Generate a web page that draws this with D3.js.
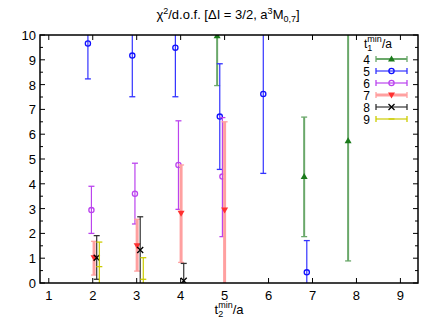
<!DOCTYPE html>
<html>
<head>
<meta charset="utf-8">
<script src="https://cdn.jsdelivr.net/npm/d3@7"></script>
<style>
  body { margin: 0; background: #fff; }
  text { font-family: "Liberation Sans", Arial, sans-serif; }
</style>
</head>
<body>
<svg width="436" height="327"></svg>
<script>
// t1min/a series labels
var series = ["4", "5", "6", "7", "8", "9"];
// x positions (t2min/a, shifted per series), central value, upper, lower
var x4 = [4.83, 6.81, 7.81];
var y4 = [9.97, 4.29, 5.74];
var hi4 = [11.5, 6.69, 11.5];
var lo4 = [7.96, 1.87, 0.89];

var x5 = [1.89, 2.90, 3.88, 4.89, 5.88, 6.87];
var y5 = [9.66, 9.17, 9.49, 6.71, 7.62, 0.43];
var hi5 = [11.5, 11.5, 11.5, 8.84, 11.5, 1.71];
var lo5 = [8.23, 7.51, 7.51, 4.58, 4.42, -0.5];

var x6 = [1.97, 2.96, 3.95, 4.95];
var y6 = [2.94, 3.60, 4.76, 4.29];
var hi6 = [3.90, 4.83, 6.54, 6.67];
var lo6 = [2.00, 2.38, 2.97, 1.87];

var x7 = [2.03, 3.01, 4.01, 5.00];
var y7 = [1.02, 1.50, 2.81, 2.94];
var hi7 = [1.68, 2.57, 4.76, 6.50];
var lo7 = [0.32, 0.48, 0.83, -0.5];

var x8 = [2.09, 3.08, 4.07];
var y8 = [1.02, 1.33, 0.09];
var hi8 = [1.91, 2.67, 0.79];
var lo8 = [0.15, -0.5, -0.5];

var x9 = [2.15, 3.15];
var y9 = [0.66, 0.15];
var hi9 = [1.65, 1.02];
var lo9 = [-0.5, -0.5];

var xTicks = [1, 2, 3, 4, 5, 6, 7, 8, 9];
var yTicks = [0, 1, 2, 3, 4, 5, 6, 7, 8, 9, 10];

var data = [
  { x: x4, y: y4, hi: hi4, lo: lo4 },
  { x: x5, y: y5, hi: hi5, lo: lo5 },
  { x: x6, y: y6, hi: hi6, lo: lo6 },
  { x: x7, y: y7, hi: hi7, lo: lo7 },
  { x: x8, y: y8, hi: hi8, lo: lo8 },
  { x: x9, y: y9, hi: hi9, lo: lo9 }
];

// styles per series
var barColor = ["#6aa86a", "#3333ff", "#bb44ee", "#ffa0a0", "#333333", "#cccc00"];
var markColor = ["#1a7a1a", "#1010ff", "#bb44ee", "#ff3030", "#000000", "#cccc00"];
var barWidth = [2, 1.2, 1.2, 3, 1.2, 1.2];
var markType = ["tri", "circ", "circ", "tridown", "cross", "plus"];

var svg = d3.select("svg");
var L = 40, R = 418, T = 35, B = 283;

var x = d3.scaleLinear().domain([0.8, 9.4]).range([L, R]);
var y = d3.scaleLinear().domain([0, 10]).range([B, T]);

svg.append("defs").append("clipPath").attr("id", "clip")
  .append("rect").attr("x", L).attr("y", T).attr("width", R - L).attr("height", B - T);

// ticks (gnuplot style: inward, mirrored)
var ax = svg.append("g").attr("stroke", "#000").attr("stroke-width", 1);
xTicks.forEach(function (t) {
  ax.append("line").attr("x1", x(t)).attr("x2", x(t)).attr("y1", B).attr("y2", B - 5);
  ax.append("line").attr("x1", x(t)).attr("x2", x(t)).attr("y1", T).attr("y2", T + 5);
});
d3.range(0, 10.01, 0.5).forEach(function (t) {
  var len = (t % 1 === 0) ? 5 : 3;
  ax.append("line").attr("x1", L).attr("x2", L + len).attr("y1", y(t)).attr("y2", y(t));
  ax.append("line").attr("x1", R).attr("x2", R - len).attr("y1", y(t)).attr("y2", y(t));
});

svg.append("g").selectAll("text").data(xTicks).join("text")
  .attr("x", function (d) { return x(d); }).attr("y", B + 17)
  .attr("text-anchor", "middle").attr("font-size", 13).text(function (d) { return d; });
svg.append("g").selectAll("text").data(yTicks).join("text")
  .attr("x", L - 4).attr("y", function (d) { return y(d) + 5; })
  .attr("text-anchor", "end").attr("font-size", 13).text(function (d) { return d; });

function drawMarker(g, type, cx, cy, col) {
  if (type === "tri") {
    g.append("path").attr("d", "M" + cx + "," + (cy - 3.5) + "L" + (cx + 3.5) + "," + (cy + 2.5) + "L" + (cx - 3.5) + "," + (cy + 2.5) + "Z")
      .attr("fill", col);
  } else if (type === "tridown") {
    g.append("path").attr("d", "M" + cx + "," + (cy + 3.5) + "L" + (cx + 3.5) + "," + (cy - 2.5) + "L" + (cx - 3.5) + "," + (cy - 2.5) + "Z")
      .attr("fill", col);
  } else if (type === "circ") {
    g.append("circle").attr("cx", cx).attr("cy", cy).attr("r", 2.6)
      .attr("fill", "none").attr("stroke", col).attr("stroke-width", 1.3);
  } else if (type === "cross") {
    g.append("path").attr("d", "M" + (cx - 3) + "," + (cy - 3) + "L" + (cx + 3) + "," + (cy + 3) + "M" + (cx - 3) + "," + (cy + 3) + "L" + (cx + 3) + "," + (cy - 3))
      .attr("stroke", col).attr("stroke-width", 1.3);
  } else {
    g.append("path").attr("d", "M" + (cx - 3) + "," + cy + "L" + (cx + 3) + "," + cy)
      .attr("stroke", col).attr("stroke-width", 1.3);
  }
}

var plot = svg.append("g").attr("clip-path", "url(#clip)");
data.forEach(function (s, k) {
  var g = plot.append("g");
  s.x.forEach(function (xv, i) {
    var px = x(xv);
    g.append("line").attr("x1", px).attr("x2", px).attr("y1", y(s.lo[i])).attr("y2", y(s.hi[i]))
      .attr("stroke", barColor[k]).attr("stroke-width", barWidth[k]);
    [s.lo[i], s.hi[i]].forEach(function (v) {
      g.append("line").attr("x1", px - 3).attr("x2", px + 3).attr("y1", y(v)).attr("y2", y(v))
        .attr("stroke", barColor[k]).attr("stroke-width", 1.3);
    });
    drawMarker(g, markType[k], px, y(s.y[i]), markColor[k]);
  });
});

// frame
svg.append("rect").attr("x", L).attr("y", T).attr("width", R - L).attr("height", B - T)
  .attr("fill", "none").attr("stroke", "#000").attr("stroke-width", 1.5);

// title
var title = svg.append("text").attr("x", 228).attr("y", 19).attr("text-anchor", "middle").attr("font-size", 13);
title.append("tspan").text("\u03c7");
title.append("tspan").attr("dy", -5).attr("font-size", 9).text("2");
title.append("tspan").attr("dy", 5).text("/d.o.f. [\u0394I = 3/2, a");
title.append("tspan").attr("dy", -5).attr("font-size", 9).text("3");
title.append("tspan").attr("dy", 5).text("M");
title.append("tspan").attr("dy", 3).attr("font-size", 9).text("0,7");
title.append("tspan").attr("dy", -3).text("]");

// x label
var xl = svg.append("text").attr("x", 229).attr("y", 314).attr("text-anchor", "middle").attr("font-size", 13);
xl.append("tspan").text("t");
xl.append("tspan").attr("dy", 3).attr("font-size", 9).text("2");
xl.append("tspan").attr("dx", -5).attr("dy", -9).attr("font-size", 9).text("min");
xl.append("tspan").attr("dy", 6).text("/a");

// legend
var lg = svg.append("g");
var lt = lg.append("text").attr("x", 364).attr("y", 48).attr("font-size", 12);
lt.append("tspan").text("t");
lt.append("tspan").attr("dy", 3).attr("font-size", 9).text("1");
lt.append("tspan").attr("dx", -5).attr("dy", -9).attr("font-size", 9).text("min");
lt.append("tspan").attr("dy", 6).text("/a");

series.forEach(function (name, k) {
  var ly = 59 + k * 12;
  lg.append("text").attr("x", 370).attr("y", ly + 4.5).attr("text-anchor", "end").attr("font-size", 12).text(name);
  lg.append("line").attr("x1", 376).attr("x2", 407).attr("y1", ly).attr("y2", ly)
    .attr("stroke", barColor[k]).attr("stroke-width", barWidth[k]);
  [376, 407].forEach(function (px) {
    lg.append("line").attr("x1", px).attr("x2", px).attr("y1", ly - 3).attr("y2", ly + 3)
      .attr("stroke", barColor[k]).attr("stroke-width", 1.3);
  });
  drawMarker(lg, markType[k], 391.5, ly, markColor[k]);
});
</script>
</body>
</html>
